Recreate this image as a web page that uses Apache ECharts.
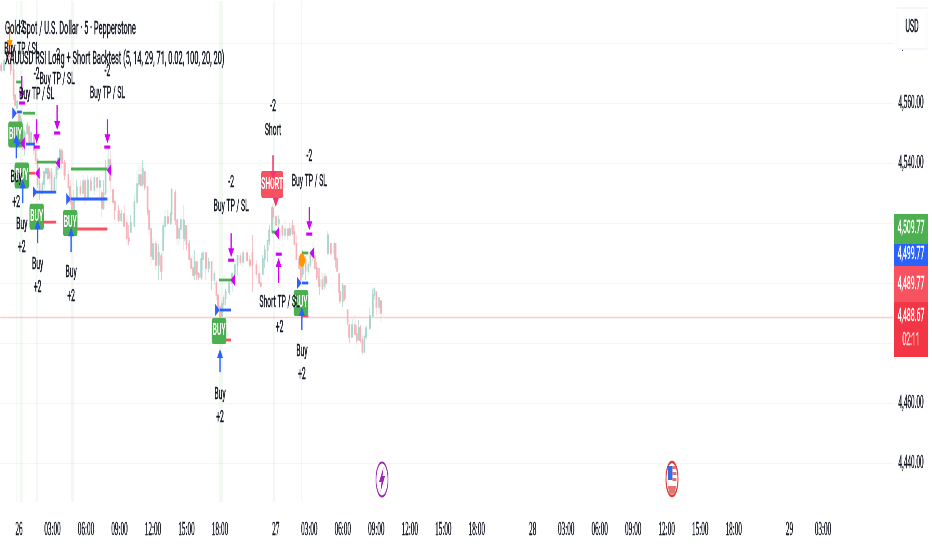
<!DOCTYPE html>
<html><head><meta charset="utf-8">
<style>html,body{margin:0;padding:0;background:#fff;overflow:hidden;width:932px;height:550px}
#c{width:2330px;height:550px;transform:scaleX(.4);transform-origin:0 0}</style>
<script src="https://cdn.jsdelivr.net/npm/echarts@6/dist/echarts.min.js"></script>
</head><body><div id="c"></div>
<script>
const candleBars=[-19,-16,-13,-11,-9,-6,-4,-2,0,2,4,6,9,11,13,16,18,20,22,25,27,29,31,33,35,38,40,42,44,46,49,53,55,57,59,62,66,69,71,74,77,81,84,87,89,91,93,96,98,101,103,107,110,113,116,118,120,124,127,129,131,133,135,138,140,142,144,147,150,153,155,157,160,163,164,168,170,172,174,177,178,180,183,185,187,189,191,193,196,198,201,204,207,210,212,214,216,218,220,222,226,229,232,235,238,241,245,248,251,255,258,260,262,264,267,269,272,273,276,279,283,286,289,291,294,296,298,301,303,305,308,311,313,315,318,320,322,323,326,328,330,332,335,339,340,342,344,345,348,350,353,355,358,361,363,365,367,369,371,373,377,380,382,384,387,389];
const candleOpen=[4572.6,4571,4574,4577,4575.6,4571,4562.6,4558.3,4556,4552,4551,4547,4550,4552,4547,4549.3,4544.3,4541,4533,4530,4533,4536.6,4538,4535,4536.6,4531,4535,4538,4541,4544,4540,4536,4532,4527,4524,4528,4532,4530,4534,4528,4534,4531,4535,4532,4530,4525,4530,4537,4541,4531,4527,4524,4521,4523,4520,4515,4517,4519,4527,4533,4536,4533,4537,4532,4524,4518,4508,4513,4506,4509,4511,4519,4522,4520,4523,4530,4521,4515,4518,4521,4515,4519,4513,4508,4505,4503,4507,4503,4502,4508,4510,4505,4507,4501,4500,4496,4492,4489,4493,4495,4497,4500,4503,4506,4509,4507,4510,4507.6,4510,4506,4503,4500,4503,4508,4511,4514,4517,4525,4522,4520,4519,4516,4518,4516,4519,4517,4513,4508,4505,4503,4508,4504,4506,4510,4509,4505,4502,4499,4501,4499,4502,4510,4513,4510,4513,4508,4503,4497,4494,4499,4491,4486,4482,4486,4483,4481,4485,4481,4477,4482,4485,4489,4496,4497,4492,4494];
const candleClose=[4571,4574,4577,4575.6,4571,4562.6,4559.3,4560.6,4552,4554.6,4547,4550,4552.6,4547,4550,4544.3,4541,4533,4530,4533.3,4537,4538,4535,4537,4531,4535,4538.6,4541.6,4544.3,4540,4536,4532,4527,4523.6,4528,4532,4530,4534,4528,4534.3,4531,4535,4532,4534,4525,4530,4537,4541,4534.3,4527,4524.3,4521,4523,4519,4515,4514,4520,4527,4533,4536,4532.6,4538,4532,4524,4518,4509,4513,4506,4510,4504,4519,4522,4520,4523,4531,4521,4515,4518,4521,4515,4519,4513,4508,4505,4502.6,4507,4503,4502,4508,4510,4505,4507,4501,4503,4496,4492,4488.6,4493,4495,4497,4500,4503,4506,4509,4507,4510,4507.6,4506,4506,4503,4500,4499,4508,4511,4514,4517.6,4525,4522,4519.3,4521,4516,4518,4516,4518,4516.6,4513,4508,4505,4501,4509,4504,4506,4510,4509,4505,4502,4499,4501,4498,4502,4500,4516,4510,4513,4508,4504,4497,4494,4499,4495,4487,4482,4486,4483,4481,4485,4481,4477,4482,4485,4489,4496,4498,4492,4495,4490];
const candleLow=[4570.3,4570,4572.6,4573.6,4569.3,4561,4557,4558,4549.3,4547.6,4544.3,4542.6,4549.3,4544.3,4544.3,4542.6,4539.3,4531.6,4527.6,4529.3,4531,4535,4534.3,4533,4531,4530.3,4531,4536,4540,4537.6,4534.3,4531,4526,4522.6,4523.6,4527.6,4529,4529.3,4526,4527.6,4531,4529.3,4530.3,4527.6,4522,4524.3,4529.3,4536,4531,4526,4521,4520.3,4520.3,4519,4512.6,4512.6,4517,4519,4526,4532,4532.6,4532,4531,4522.6,4516,4506,4507.6,4504.3,4501,4501,4509.3,4516,4519.3,4519.3,4521,4519.3,4512.6,4512.6,4514.3,4511,4514,4511,4507.6,4505,4502.6,4501,4501,4501,4501,4504.3,4501,4503.6,4497.6,4499.3,4494.3,4491.6,4488,4489,4490.3,4492.6,4496,4497,4499.3,4502.6,4506,4505,4507,4505,4497,4501.6,4499.3,4498.6,4502.6,4505,4507,4512.6,4516,4519.3,4519.3,4517.6,4514.3,4514.3,4514.3,4516,4516,4512.6,4507.6,4504.3,4501,4502,4501,4502.6,4505,4507,4504.3,4501,4499,4496,4498,4497.6,4498.3,4509.3,4509.3,4507.6,4505,4503.6,4494.3,4493,4492,4494,4486,4480,4482,4482.6,4480,4481,4480,4476,4476.6,4481,4484.3,4489,4494.3,4489.3,4489.3,4487];
const candleHigh=[4573.6,4575,4578,4579.3,4578.3,4574.3,4563,4561,4557.6,4556,4552.6,4551,4553.6,4552.6,4551,4549.6,4546,4541.6,4534.3,4534.3,4537.6,4538.6,4538.6,4538,4538.3,4536,4541,4541.6,4545,4545,4541,4537.6,4534.3,4529.3,4531,4534.3,4534.3,4536,4535,4536,4535,4536,4535,4536,4531,4534.3,4541,4545,4544,4531,4527.6,4526,4524.3,4526,4522.6,4519.3,4522.6,4529.3,4537.6,4539.3,4539.3,4541,4537,4532,4524,4518,4515,4514,4513,4510,4521,4524.3,4524.3,4523.6,4531.6,4531,4521,4519.3,4522.6,4526,4521,4519.3,4514.3,4509.3,4509.3,4511,4507,4503.6,4510,4511,4510,4508.3,4507,4504.3,4501,4496,4492.6,4494.3,4496,4498,4501,4503.6,4506,4509.3,4510,4511,4510.3,4509.3,4516,4507.6,4506,4502.6,4509.3,4512.6,4514.3,4519.3,4526,4526.6,4522.6,4522.6,4519.3,4521,4518,4520,4521,4519.3,4516,4509.3,4507.6,4511,4509,4507,4511,4511,4509.3,4507,4505,4505,4503.3,4503.3,4503,4517.3,4513.3,4513.6,4513.3,4509,4503,4501,4500,4499.3,4491,4486,4488,4489.3,4486,4487.6,4486,4482.6,4483,4486,4492,4498,4498.6,4497,4495.3,4494];
const tickBars=[0,36,72,108,144,180,216,276,312,348,384,420,456,492,552,588,624,660,696,732,768,828,864];
const tickTexts=['26','03:00','06:00','09:00','12:00','15:00','18:00','27','03:00','06:00','09:00','12:00','15:00','18:00','28','03:00','06:00','09:00','12:00','15:00','18:00','29','03:00'];
const priceTicks=[4440,4460,4480,4500,4520,4540,4560,4580];
const bandFrom=[-3,1,18,56,215,273,303];
const bandTo=[-2,4,20,59,219,275,304];
const segFrom=[-3,4,19,56,215,272,304,-2,7.5,17,56,216,304,4,22,58,216,304];
const segTo=[2,17,40,95,228,276,311,3,17,40,95,228,311,17,40,95,228,311];
const segPrice=[4567,4556.6,4540.3,4538,4501,4517,4510,4557,4546.3,4530.3,4528,4491,4500,4536.6,4520.3,4518,4481,4489];
const segColor=['#4CAF50','#4CAF50','#4CAF50','#4CAF50','#4CAF50','#4CAF50','#4CAF50','#2962FF','#2962FF','#2962FF','#2962FF','#2962FF','#2962FF','#F7525F','#F7525F','#F7525F','#F7525F','#F7525F'];
const boxBars=[-3.8,3,19,55,215,303,272];
const boxPrices=[4549.5,4535.8,4522.1,4520,4484,4493.3,4532.8];
const boxTexts=['BUY','BUY','BUY','BUY','BUY','BUY','SHORT'];
const arrowBars=[-3,4,20,56,216,304,3,19,41,95,228,312,279,273,276,-10];
const arrowTail=[4541.6,4526.6,4513.3,4510.3,4470.3,4484.3,4569,4554.6,4559.3,4554.6,4516.6,4525.3,4500,4542.6,4528.6,4586];
const arrowTip=[4549.6,4534.6,4521,4518.6,4478,4492,4561,4546.6,4551,4546.6,4508.6,4517.6,4508.3,4534.3,4525.3,4578];
const arrowColor=['#2962FF','#2962FF','#2962FF','#2962FF','#2962FF','#2962FF','#D500F9','#D500F9','#D500F9','#D500F9','#D500F9','#D500F9','#D500F9','#F23670','#F23670','#FF9800'];
const dashBars=[3,19,41,95,228,312,279];
const dashPrices=[4560,4545.3,4550,4545.3,4507.6,4516.3,4509.6];
const exitBars=[4,20,42,97,230,277,315];
const exitPrices=[4546.6,4536.6,4540,4537.6,4501,4516.6,4510];
const entryBars=[-5,-1,17,53,213,301];
const entryPrices=[4556.6,4546.6,4530.3,4528,4491,4500];
const ovalBars=[304];
const ovalPrices=[4507.6];
const labelBars=[3,3,19,19,41,41,95,95,228,228,312,312,273,273,280,280,-3,-3,3,3,20,20,56,56,216,216,304,304];
const labelPrices=[4577.6,4585,4562.6,4569.3,4567.6,4575.6,4563,4570.3,4525.3,4533.3,4533.6,4542,4550.6,4558.6,4493.3,4485,4535,4526.6,4519.3,4511.6,4506,4498.3,4503.3,4495.3,4462.6,4455,4477,4469.3];
const labelTexts=['Buy TP / SL','-2','Buy TP / SL','-2','Buy TP / SL','-2','Buy TP / SL','-2','Buy TP / SL','-2','Buy TP / SL','-2','Short','-2','Short TP / SL','+2','Buy','+2','Buy','+2','Buy','+2','Buy','+2','Buy','+2','Buy','+2'];
const lastPrice=4488.67;
const stackTexts=['4,509.77','4,499.77','4,489.77','4,488.67','02:11'];

const INK='#131722',FONT='"Liberation Sans Narrow",Roboto,sans-serif',SZ='17px ',K=2.5;
const chart=echarts.init(document.getElementById('c'),null,{width:2330,height:550});
function custom(name,data,render,z){return {type:'custom',name,silent:true,z,clip:false,animation:false,coordinateSystem:'cartesian2d',data,renderItem:render}}
const ax={
 segs:custom('levels',segFrom.map((v,i)=>[v,segPrice[i]]),(p,api)=>{const i=p.dataIndex,a=api.coord([segFrom[i],segPrice[i]]),b=api.coord([segTo[i],segPrice[i]]);
  return {type:'rect',shape:{x:a[0],y:a[1]-1.4,width:b[0]-a[0],height:2.8},style:{fill:segColor[i]}}},5),
 boxes:custom('boxes',boxBars.map((v,i)=>[v,boxPrices[i]]),(p,api)=>{const i=p.dataIndex,c=api.coord([boxBars[i],boxPrices[i]]),s=boxTexts[i]==='SHORT',w=(s?22:14.5)*K,h=s?27:26;
  return {type:'group',children:[
   {type:'rect',shape:{x:c[0]-w/2,y:c[1]-h/2,width:w,height:h,r:4},style:{fill:s?'#F7525F':'#4CAF50'}},
   {type:'text',x:c[0],y:c[1],style:{text:boxTexts[i],fill:'#fff',font:'bold 17px '+FONT,textAlign:'center',textVerticalAlign:'middle'}}]}},6),
 dashes:custom('dashes',dashBars.map((v,i)=>[v,dashPrices[i]]),(p,api)=>{const c=api.coord([dashBars[p.dataIndex],dashPrices[p.dataIndex]]);
  return {type:'rect',shape:{x:c[0]-3*K,y:c[1]-1.6,width:6*K,height:3.2},style:{fill:'#D500F9'}}},7),
 arrows:custom('arrows',arrowBars.map((v,i)=>[v,arrowTip[i]]),(p,api)=>{const i=p.dataIndex,t=api.coord([arrowBars[i],arrowTip[i]]),b=api.coord([arrowBars[i],arrowTail[i]]),d=t[1]<b[1]?1:-1;
  return {type:'group',children:[
   {type:'line',shape:{x1:b[0],y1:b[1],x2:t[0],y2:t[1]+d*4},style:{stroke:arrowColor[i],lineWidth:1.3*K}},
   {type:'polygon',shape:{points:[[t[0],t[1]],[t[0]-3*K,t[1]+d*9],[t[0]+3*K,t[1]+d*9]]},style:{fill:arrowColor[i]}}]}},8),
 exits:custom('exits',exitBars.map((v,i)=>[v,exitPrices[i]]),(p,api)=>{const c=api.coord([exitBars[p.dataIndex],exitPrices[p.dataIndex]]);
  return {type:'polygon',shape:{points:[[c[0]-2.5*K,c[1]],[c[0]+2*K,c[1]-6],[c[0]+2*K,c[1]+6]]},style:{fill:'#D500F9'}}},9),
 entries:custom('entries',entryBars.map((v,i)=>[v,entryPrices[i]]),(p,api)=>{const c=api.coord([entryBars[p.dataIndex],entryPrices[p.dataIndex]]);
  return {type:'polygon',shape:{points:[[c[0]+2.5*K,c[1]],[c[0]-2*K,c[1]-6],[c[0]-2*K,c[1]+6]]},style:{fill:'#2962FF'}}},9),
 ovals:custom('ovals',ovalBars.map((v,i)=>[v,ovalPrices[i]]),(p,api)=>{const c=api.coord([ovalBars[p.dataIndex],ovalPrices[p.dataIndex]]);
  return {type:'ellipse',shape:{cx:c[0],cy:c[1],rx:3*K,ry:7},style:{fill:'#FF9800'}}},9),
 labels:custom('labels',labelBars.map((v,i)=>[v,labelPrices[i]]),(p,api)=>{const i=p.dataIndex,c=api.coord([labelBars[i],labelPrices[i]]);
  return {type:'text',x:c[0],y:c[1],style:{text:labelTexts[i],fill:INK,stroke:INK,lineWidth:0.5,font:SZ+FONT,textAlign:'center',textVerticalAlign:'middle'}}},10)
};
const T=(x,y,t,col,font,align)=>({type:'text',x:x*K,y,z:30,style:{text:t,fill:col||INK,stroke:col||INK,lineWidth:0.5,font:font||('17.5px '+FONT),textAlign:align||'center',textVerticalAlign:'middle'}});
const R=(x,y,w,h,f,extra)=>Object.assign({type:'rect',z:29,shape:{x:x*K,y,width:w*K,height:h,r:0},style:{fill:f}},extra||{});
const E=(cx,cy,stroke,lw)=>({type:'ellipse',z:29,shape:{cx:cx*K,cy,rx:6*K,ry:17},style:{fill:'#fff',stroke,lineWidth:lw}});
const PG=(pts,fill)=>({type:'polygon',z:30,shape:{points:pts.map(p=>[p[0]*K,p[1]])},style:{fill}});
chart.setOption({
 animation:false,backgroundColor:'#fff',
 grid:{left:1,width:2231,top:1,height:501,containLabel:false},
 xAxis:{type:'value',min:-20,max:939,axisLine:{show:false},axisTick:{show:false,customValues:tickBars},splitLine:{show:false},
  axisLabel:{customValues:tickBars,margin:19,color:INK,textBorderColor:INK,textBorderWidth:0.5,fontFamily:'Liberation Sans Narrow',fontSize:18,hideOverlap:false,showMinLabel:true,showMaxLabel:true,
   formatter:v=>tickTexts[tickBars.indexOf(v)]||''}},
 yAxis:{type:'value',position:'right',min:4427,max:4594,axisLine:{show:false},axisTick:{show:false,customValues:priceTicks},
  splitLine:{show:true,lineStyle:{color:'#F2F4F8',width:1.2}},
  axisLabel:{customValues:priceTicks,margin:14,color:INK,textBorderColor:INK,textBorderWidth:0.5,fontFamily:'Liberation Sans Narrow',fontSize:18,formatter:v=>v.toLocaleString('en-US',{minimumFractionDigits:2})}},
 series:[
  {type:'candlestick',name:'XAUUSD',silent:true,z:3,barWidth:3.6,encode:{x:0,y:[1,2,3,4]},
   data:candleBars.map((b,i)=>[b,candleOpen[i],candleClose[i],candleLow[i],candleHigh[i]]),
   itemStyle:{color:'#A8D8CD',color0:'#F5B3B9',borderColor:'#A8D8CD',borderColor0:'#F5B3B9',borderWidth:1.4},
   markArea:{silent:true,z:1,itemStyle:{color:'rgba(76,175,80,0.07)'},label:{show:false},data:bandFrom.map((b,i)=>[{xAxis:b},{xAxis:bandTo[i]}])},
   markLine:{silent:true,symbol:'none',z:2,label:{show:false},lineStyle:{color:'rgba(242,54,69,0.25)',type:'solid',width:1.4},data:[{yAxis:lastPrice}]}},
  ax.segs,ax.boxes,ax.dashes,ax.arrows,ax.exits,ax.entries,ax.ovals,ax.labels],
 graphic:[
  T(5,29,'Gold Spot / U.S. Dollar · 5 · Pepperstone',INK,'18.6px '+FONT,'left'),
  T(5,59,'XAUUSD RSI Long + Short Backtest (5, 14, 29, 71, 0.02, 100, 20, 20)',INK,'18.6px '+FONT,'left'),
  R(897,8,30,41,'#fff',{style:{fill:'#fff',stroke:'#F0F3FA',lineWidth:1.5}}),
  T(912,28,'USD'),
  R(894,214,34,30,'#4CAF50'),T(911,229,stackTexts[0],'#fff'),
  R(894,244,34,22,'#2962FF'),T(911,255,stackTexts[1],'#fff'),
  R(894,266,34,36,'#F7525F'),T(911,285,stackTexts[2],'#fff'),
  R(894,302,34,55,'#F23645'),T(911,317,stackTexts[3],'#fff'),T(911,341,stackTexts[4],'#FFD9DC'),
  E(382,479.5,'#9C27B0',2),
  PG([[383.5,467],[379,482],[381.5,482],[380.5,492],[385,476],[382.5,476]],'#9C27B0'),
  E(672,479,'#E53935',2.6),
  R(668,466,4.5,14,'#2F6FE0'),R(672.5,466,3.5,3,'#E57373'),R(672.5,472,4,3,'#E57373'),R(672.5,478,4,3,'#E57373'),
  PG([[667.5,486],[676.5,486],[674.5,493],[672,494.5],[669.5,493]],'#E57373')
 ]
});
</script></body></html>
